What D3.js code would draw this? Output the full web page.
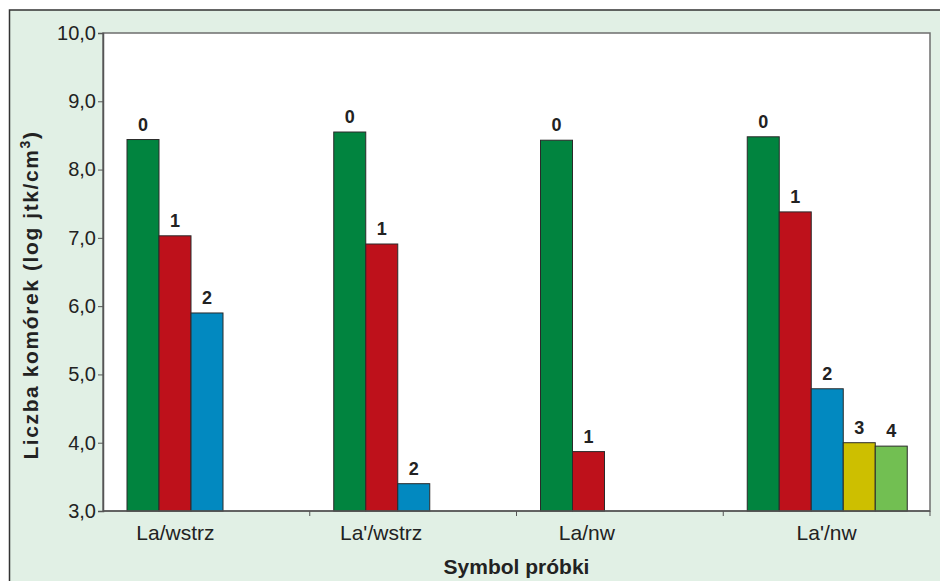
<!DOCTYPE html>
<html>
<head>
<meta charset="utf-8">
<script src="https://cdn.jsdelivr.net/npm/d3@7"></script>
<style>
  body { margin: 0; background: #fff; }
  svg { display: block; font-family: "Liberation Sans", Arial, sans-serif; }
</style>
</head>
<body>
<svg id="chart" width="940" height="581"></svg>
<script>
// DATA
var samples = ["La/wstrz", "La'/wstrz", "La/nw", "La'/nw"];
var series = ["0", "1", "2", "3", "4"];
var values0 = [8.44, 8.55, 8.43, 8.48];
var values1 = [7.03, 6.91, 3.87, 7.38];
var values2 = [5.90, 3.40, null, 4.79];
var values3 = [null, null, null, 4.00];
var values4 = [null, null, null, 3.95];
var yTicks = [3, 4, 5, 6, 7, 8, 9, 10];
var colors = ["#01843f", "#be111b", "#0289c0", "#cdbf00", "#72bf52"];

var allValues = [values0, values1, values2, values3, values4];

var svg = d3.select("#chart");
var plotLeft = 103, plotRight = 930, plotTop = 33, plotBottom = 511;

// background
svg.append("rect")
  .attr("x", 9.5).attr("y", 10)
  .attr("width", 940).attr("height", 600)
  .attr("fill", "#e1f0e5")
  .attr("stroke", "#333")
  .attr("stroke-width", 1.5);

svg.append("rect")
  .attr("x", plotLeft).attr("y", plotTop)
  .attr("width", plotRight - plotLeft).attr("height", plotBottom - plotTop)
  .attr("fill", "#fff")
  .attr("stroke", "#6e6e6e")
  .attr("stroke-width", 1.5);

// SCALES
var x = d3.scaleBand().domain(samples).range([plotLeft, plotRight]);
var xs = d3.scaleBand().domain(series).range([24, 24 + 32 * 5]);
var y = d3.scaleLinear().domain([3, 10]).range([plotBottom, plotTop]);

// BARS
var bars = [];
samples.forEach(function (s, i) {
  series.forEach(function (k, j) {
    var v = allValues[j][i];
    if (v !== null) bars.push({ sample: s, key: k, idx: j, value: v });
  });
});

svg.selectAll("rect.bar")
  .data(bars)
  .enter()
  .append("rect")
  .attr("class", "bar")
  .attr("x", function (d) { return x(d.sample) + xs(d.key); })
  .attr("y", function (d) { return y(d.value); })
  .attr("width", xs.bandwidth())
  .attr("height", function (d) { return plotBottom - y(d.value); })
  .attr("fill", function (d) { return colors[d.idx]; })
  .attr("stroke", "#2a2a2a")
  .attr("stroke-width", 1);

svg.selectAll("text.val")
  .data(bars)
  .enter()
  .append("text")
  .attr("class", "val")
  .attr("x", function (d) { return x(d.sample) + xs(d.key) + xs.bandwidth() / 2; })
  .attr("y", function (d) { return y(d.value) - 9; })
  .attr("text-anchor", "middle")
  .attr("font-size", "18px")
  .attr("font-weight", "bold")
  .attr("fill", "#222")
  .text(function (d) { return d.key; });

// AXES
var fmt = d3.format(".1f");
var yAxis = d3.axisLeft(y)
  .tickValues(yTicks)
  .tickSize(5)
  .tickPadding(2)
  .tickFormat(function (d) { return fmt(d).replace(".", ","); });

var gy = svg.append("g")
  .attr("transform", "translate(" + plotLeft + ",0)")
  .call(yAxis);
gy.select(".domain").attr("stroke", "#555").attr("stroke-width", 1.5);
gy.selectAll(".tick line").attr("stroke", "#555");
gy.selectAll(".tick text")
  .attr("font-size", "20px")
  .attr("font-family", "Liberation Sans, Arial, sans-serif")
  .attr("fill", "#222");

// x axis line and ticks at band edges
svg.append("line")
  .attr("x1", plotLeft).attr("x2", plotRight)
  .attr("y1", plotBottom).attr("y2", plotBottom)
  .attr("stroke", "#555").attr("stroke-width", 1.5);

svg.selectAll("line.xtick")
  .data(samples)
  .enter()
  .append("line")
  .attr("class", "xtick")
  .attr("x1", function (d) { return x(d) + x.bandwidth(); })
  .attr("x2", function (d) { return x(d) + x.bandwidth(); })
  .attr("y1", plotBottom).attr("y2", plotBottom + 5)
  .attr("stroke", "#555");

// labels sit under the bar groups, not the band centres
var labelShift = [-31, -32, -33, 0];
svg.selectAll("text.xlab")
  .data(samples)
  .enter()
  .append("text")
  .attr("class", "xlab")
  .attr("x", function (d, i) { return x(d) + x.bandwidth() / 2 + labelShift[i]; })
  .attr("y", 540)
  .attr("text-anchor", "middle")
  .attr("font-size", "21px")
  .attr("fill", "#222")
  .text(function (d) { return d; });

// axis titles
svg.append("text")
  .attr("x", (plotLeft + plotRight) / 2)
  .attr("y", 574)
  .attr("text-anchor", "middle")
  .attr("font-size", "21px")
  .attr("font-weight", "bold")
  .attr("fill", "#222")
  .text("Symbol próbki");

var yt = svg.append("text")
  .attr("transform", "translate(38,295) rotate(-90)")
  .attr("text-anchor", "middle")
  .attr("font-size", "21px")
  .attr("font-weight", "bold")
  .attr("letter-spacing", "1.6px")
  .attr("fill", "#222");
yt.append("tspan").text("Liczba komórek (log jtk/cm");
yt.append("tspan").attr("baseline-shift", "super").attr("font-size", "14px").text("3");
yt.append("tspan").text(")");
</script>
</body>
</html>
